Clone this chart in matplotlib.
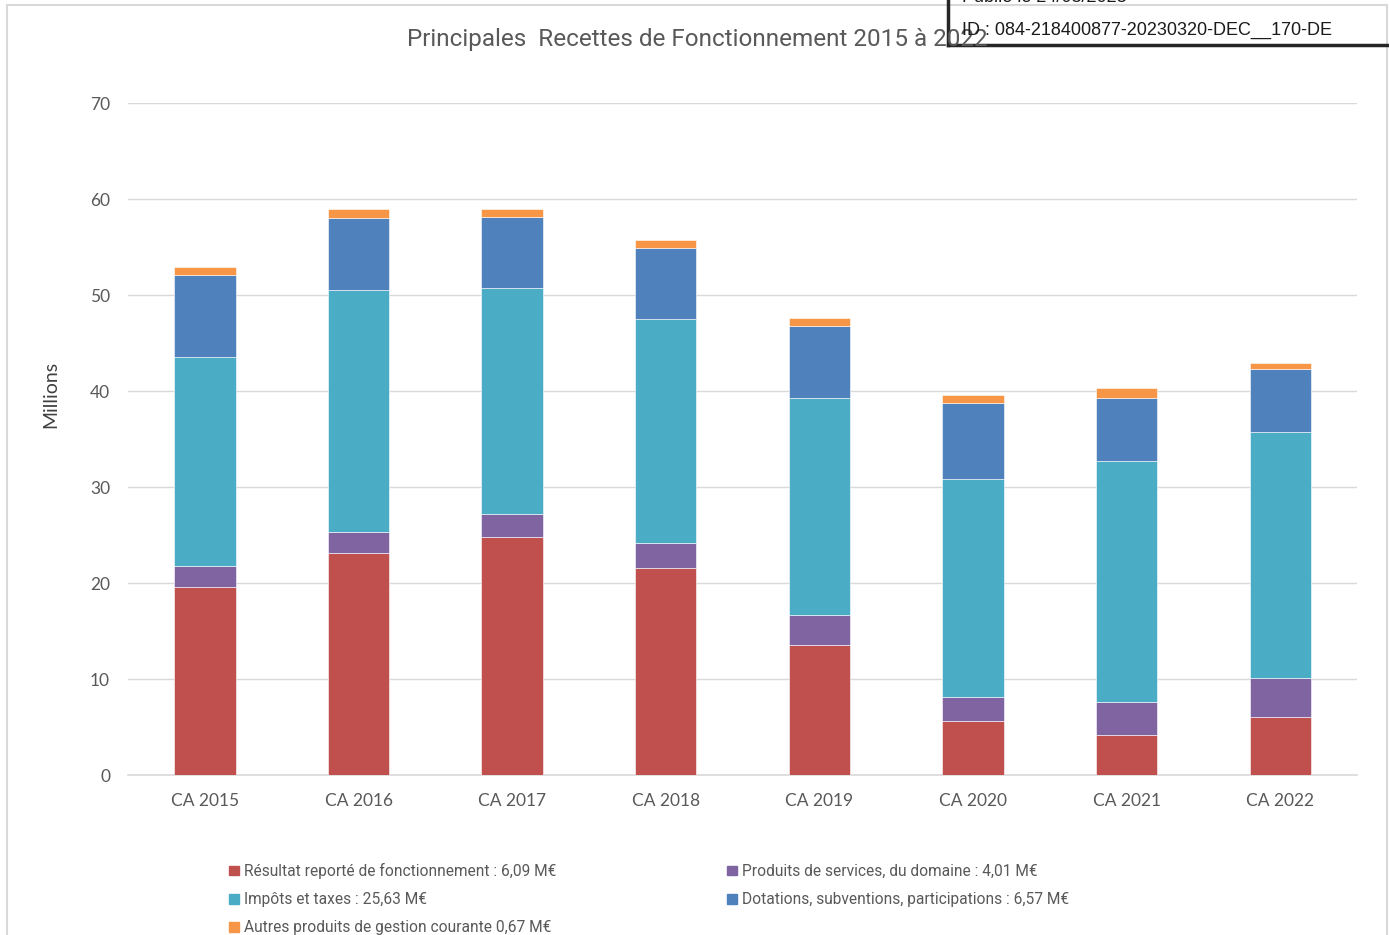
import numpy as np
import matplotlib.pyplot as plt
from matplotlib.patches import Rectangle
from matplotlib.lines import Line2D

# --- data (millions d'euros) ---
YEARS = ["CA 2015", "CA 2016", "CA 2017", "CA 2018", "CA 2019", "CA 2020", "CA 2021", "CA 2022"]
RESULTAT = [19.58, 23.09, 24.83, 21.60, 13.54, 5.63, 4.13, 6.09]
PRODUITS = [2.19, 2.26, 2.32, 2.60, 3.13, 2.50, 3.47, 4.01]
IMPOTS = [21.77, 25.17, 23.58, 23.30, 22.60, 22.75, 25.07, 25.63]
DOTATIONS = [8.54, 7.53, 7.43, 7.43, 7.50, 7.85, 6.60, 6.57]
AUTRES = [0.86, 0.87, 0.76, 0.80, 0.83, 0.86, 1.04, 0.67]

LABELS = [
    "Résultat reporté de fonctionnement : 6,09 M€",
    "Produits de services, du domaine : 4,01 M€",
    "Impôts et taxes : 25,63 M€",
    "Dotations, subventions, participations : 6,57 M€",
    "Autres produits de gestion courante 0,67 M€",
]
COLORS = ["#C0504D", "#8064A2", "#4BACC6", "#4F81BD", "#F79646"]

TITLE = "Principales  Recettes de Fonctionnement 2015 à 2022"
YTICKS = [0, 10, 20, 30, 40, 50, 60, 70]

TEXT_GREY = "#595959"
GRID_GREY = "#d9d9d9"
NARROW = ["Roboto", "DejaVu Sans"]

plt.rcParams["font.family"] = ["Lato", "DejaVu Sans"]

fig = plt.figure(figsize=(13.89, 9.35), dpi=100)
ax = fig.add_axes([0.0922, 0.1711, 0.8848, 0.7187])

x = np.arange(len(YEARS))
series = [RESULTAT, PRODUITS, IMPOTS, DOTATIONS, AUTRES]
bottom = np.zeros(len(YEARS))
for vals, col in zip(series, COLORS):
    ax.bar(x, vals, width=0.40, bottom=bottom, color=col, edgecolor="white",
           linewidth=0.4, zorder=3)
    bottom += np.array(vals)

ax.set_xlim(-0.5, len(YEARS) - 0.5)
ax.set_ylim(0, 70)
ax.set_yticks(YTICKS)
ax.set_xticks(x)
ax.set_xticklabels(YEARS)
ax.tick_params(axis="both", length=0, labelsize=12.5, colors=TEXT_GREY)
ax.tick_params(axis="y", pad=13)
ax.tick_params(axis="x", pad=13)
ax.grid(axis="y", color=GRID_GREY, linewidth=1.0, zorder=0)
for s in ["top", "right", "left"]:
    ax.spines[s].set_visible(False)
ax.spines["bottom"].set_color(GRID_GREY)
ax.spines["bottom"].set_linewidth(1.2)

# the label sits a bit above the middle of the axis in the original
ax.set_ylabel("Millions", fontsize=14, color="#404040", labelpad=22, y=0.567)

fig.text(0.502, 0.958, TITLE, ha="center", va="center", fontsize=17.5,
         color=TEXT_GREY, family=NARROW)

# legend: column-first order gives two columns as in the original
order = [0, 2, 4, 1, 3]
handles = [Rectangle((0, 0), 1, 1, color=COLORS[i]) for i in order]
fig.legend(handles, [LABELS[i] for i in order], ncol=2, loc="upper left",
           bbox_to_anchor=(0.165, 0.077), frameon=False,
           prop={"family": NARROW, "size": 11.2}, labelcolor=TEXT_GREY,
           handlelength=0.6, handleheight=0.6, handletextpad=0.35,
           columnspacing=11.0, labelspacing=0.85, borderpad=0, borderaxespad=0)

# outer chart frame
fig.add_artist(Rectangle((7 / 1389, -0.01), 1380 / 1389, (935 - 5) / 935 + 0.01,
                         transform=fig.transFigure, fill=False,
                         edgecolor=GRID_GREY, linewidth=1.5))

# publication stamp box in the top right corner
fig.add_artist(Line2D([948 / 1389, 948 / 1389], [1.0, 1 - 45 / 935],
                      transform=fig.transFigure, color="#262626", linewidth=2.5))
fig.add_artist(Line2D([948 / 1389, 1.0], [1 - 45 / 935, 1 - 45 / 935],
                      transform=fig.transFigure, color="#262626", linewidth=2.5))
fig.text(962 / 1389, 1 - 30 / 935, "ID : 084-218400877-20230320-DEC__170-DE",
         ha="left", va="center", fontsize=13, color="#1a1a1a",
         family=["Liberation Sans", "DejaVu Sans"])
fig.text(962 / 1389, 1 - 2 / 935, "Publié le 24/03/2023",
         ha="left", va="baseline", fontsize=13, color="#1a1a1a",
         family=["Liberation Sans", "DejaVu Sans"])

fig.savefig("out.png", dpi=100)
